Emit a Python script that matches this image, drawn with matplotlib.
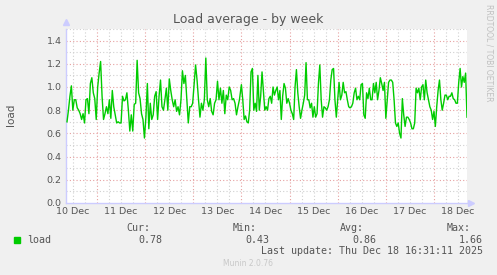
import numpy as np
import pandas as pd
import matplotlib
matplotlib.use('Agg')
import matplotlib.pyplot as plt
import matplotlib.dates as mdates

# Load average samples (two stretches)
load_a = [0.70, 0.80, 0.92, 1.01, 0.80, 0.89, 0.89, 0.82, 0.80, 0.77,
          0.72, 0.77, 0.69, 0.89, 0.90, 0.77, 1.03, 1.08, 0.95, 0.90,
          0.72, 1.00, 1.12, 1.22, 0.92, 0.72, 0.77, 0.83, 0.77, 0.89,
          0.73, 0.97, 0.83, 0.76, 0.69, 0.70, 0.69, 0.69, 0.92, 0.88,
          0.89, 0.95, 0.80, 0.62, 0.76, 0.62, 0.85, 0.86, 1.23, 0.95,
          0.90, 0.77, 0.72, 0.56, 0.74, 1.03, 0.64, 0.86, 0.72, 0.76,
          0.92, 0.96, 0.72, 0.92, 1.06, 0.83, 0.80, 0.89, 0.99, 0.80,
          1.07, 0.97, 0.89, 0.83, 0.89, 0.79, 0.83, 0.76, 0.89, 1.14,
          1.03, 1.10, 0.89, 0.69, 0.83, 0.83, 0.86, 1.03, 1.19, 1.06,
          0.89, 0.74, 0.86, 0.80, 0.89, 1.25, 0.89, 0.83, 0.90, 0.79,
          0.76, 0.86, 0.89, 1.05, 0.89, 0.99, 0.86, 0.97, 0.77, 0.93,
          0.89, 1.00, 0.97, 0.89, 0.90, 0.86, 0.76, 0.83, 0.89]
load_b = [1.02, 0.89, 0.72, 0.75, 0.70, 0.69, 0.80, 1.13, 1.16, 0.80,
          0.86, 0.79, 1.10, 0.80, 0.92, 1.13, 0.97, 0.80, 0.83, 0.80,
          0.90, 0.92, 0.86, 1.00, 0.93, 0.97, 1.00, 0.89, 0.97, 0.72,
          0.92, 1.03, 0.99, 0.86, 0.90, 0.86, 0.80, 0.77, 0.72, 1.00,
          1.15, 0.95, 0.83, 0.73, 0.80, 0.86, 0.93, 1.21, 0.89, 0.89,
          0.82, 0.86, 0.74, 0.83, 0.74, 0.77, 1.03, 1.19, 0.89, 0.74,
          0.83, 0.82, 0.80, 0.83, 0.89, 1.06, 1.15, 1.16, 0.89, 0.74,
          0.89, 1.04, 0.89, 0.93, 1.04, 0.95, 0.96, 0.89, 0.83, 0.82,
          0.83, 0.86, 0.95, 0.99, 0.89, 0.92, 0.89, 1.02, 1.03, 0.76,
          0.73, 0.95, 0.90, 0.99, 0.89, 0.89, 1.03, 0.95, 1.04, 0.89,
          0.97, 1.08, 1.03, 0.97, 1.04, 0.73, 0.89, 1.04, 1.06, 1.06,
          1.04, 0.89, 0.69, 0.66, 0.69, 0.60, 0.56, 0.90, 0.76, 0.66,
          0.74, 0.74, 0.72, 0.69, 0.64, 0.64, 0.69, 0.99, 0.95, 0.99,
          0.89, 1.00, 1.02, 0.89, 1.06, 0.95, 0.89, 0.83, 0.80, 0.72,
          0.79, 0.66, 0.83, 0.97, 1.06, 0.89, 0.80, 0.86, 0.93, 0.93,
          0.89, 0.92, 0.92, 0.95, 0.90, 0.89, 0.86, 0.86, 1.04, 1.16,
          1.00, 1.09, 1.04, 1.12, 0.74]
span_a = ('2025-12-10 09:01', '2025-12-13 23:01')
span_b = ('2025-12-14 00:00', '2025-12-18 16:31')
t_start = pd.Timestamp('2025-12-10 08:31:11')
t_end = pd.Timestamp('2025-12-18 16:31:11')

stats_hdr = ['Cur:', 'Min:', 'Avg:', 'Max:']
stats_val = ['0.78', '0.43', '0.86', '1.66']
last_update = 'Last update: Thu Dec 18 16:31:11 2025'

t_a = pd.date_range(span_a[0], span_a[1], periods=len(load_a))
t_b = pd.date_range(span_b[0], span_b[1], periods=len(load_b))
times = t_a.append(t_b)
load = np.array(load_a + load_b)

W, H = 497, 275
fig = plt.figure(figsize=(W / 100, H / 100), dpi=100, facecolor='#f0f0f0')
ax = fig.add_axes([66 / W, 1 - 203 / H, 401 / W, 174 / H])
ax.set_facecolor('white')

txt = '#555555'
red = '#e6a0a0'
grey = '#d0d0d0'
blue = '#ccccff'

ax.set_xlim(t_start, t_end)
ax.set_ylim(0, 1.5)

# grid lines
for y in np.arange(0.1, 1.51, 0.1):
    major = abs(y / 0.2 - round(y / 0.2)) < 1e-6
    ax.axhline(y, color=red if major else grey, lw=0.8, ls=(0, (1, 2)), zorder=1)
for t in pd.date_range('2025-12-10 12:00', '2025-12-18 12:00', freq='6h'):
    ax.axvline(t, color=red if t.hour == 0 else grey, lw=0.8, ls=(0, (1, 2)), zorder=1)

ax.plot(times, load, color='#00cc00', lw=1.0, zorder=3)

for s in ['top', 'right']:
    ax.spines[s].set_visible(False)
for s in ['left', 'bottom']:
    ax.spines[s].set_color(blue)
    ax.spines[s].set_linewidth(1)
ax.plot(0, 1.04, marker='^', color=blue, ms=4, transform=ax.transAxes, clip_on=False)
ax.plot(1.01, 0, marker='>', color=blue, ms=4, transform=ax.transAxes, clip_on=False)

ax.set_yticks(np.arange(0, 1.41, 0.2))
ax.set_yticklabels([f'{v:.1f}' for v in np.arange(0, 1.41, 0.2)])
noons = pd.date_range('2025-12-10 12:00', '2025-12-18 12:00', freq='1D')
ax.set_xticks(noons)
ax.xaxis.set_major_formatter(mdates.DateFormatter('%d Dec'))
ax.tick_params(length=0, labelsize=6.8, colors=txt, pad=3)

fig.text(11 / W, 1 - 115 / H, 'load', rotation=90, ha='center', va='center',
         fontsize=7.5, color=txt)
fig.text(0.5, 1 - 19 / H, 'Load average - by week', ha='center', va='center',
         fontsize=9, color=txt)
fig.text(489 / W, 1 - 53 / H, 'RRDTOOL / TOBI OETIKER', rotation=270, ha='center',
         va='center', fontsize=5.5, color='#c0c0c0')

mono = 'DejaVu Sans Mono'
fig.patches.append(plt.Rectangle((14 / W, 1 - 243 / H), 6 / W, 6 / H,
                                 transform=fig.transFigure, color='#00cc00'))
fig.text(27 / W, 1 - 240 / H, 'load', family=mono, fontsize=7.2, color=txt, va='center')
for i, (h, v) in enumerate(zip(stats_hdr, stats_val)):
    fig.text((150 + 107 * i) / W, 1 - 228 / H, h, family=mono, fontsize=7.2,
             color=txt, ha='right', va='center')
    fig.text((162 + 107 * i) / W, 1 - 240 / H, v, family=mono, fontsize=7.2,
             color=txt, ha='right', va='center')
fig.text(483 / W, 1 - 251 / H, last_update, family=mono, fontsize=7.2, color=txt,
         ha='right', va='center')
fig.text(248 / W, 1 - 264 / H, 'Munin 2.0.76', fontsize=5.5, color='#c8c8c8',
         ha='center', va='center')

fig.savefig('out.png', dpi=100, facecolor=fig.get_facecolor())
